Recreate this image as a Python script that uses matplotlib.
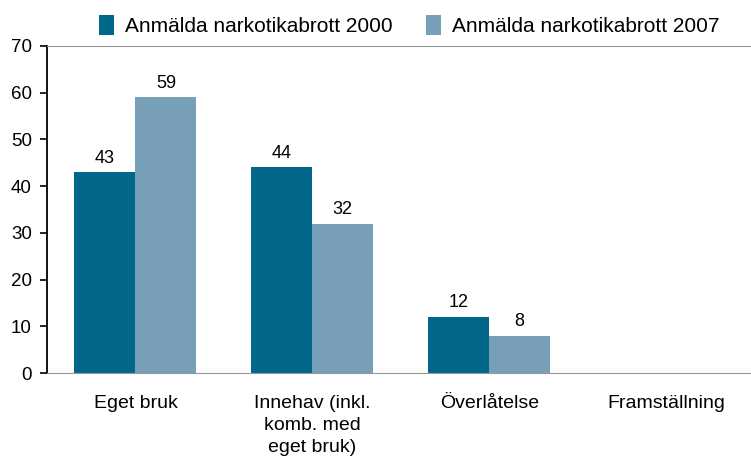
import matplotlib
matplotlib.use("Agg")
import matplotlib.pyplot as plt
import numpy as np

plt.rcParams['font.family'] = ['Liberation Sans', 'DejaVu Sans']

categories = ["Eget bruk", "Innehav (inkl.\nkomb. med\neget bruk)", "Överlåtelse", "Framställning"]
series_names = ["Anmälda narkotikabrott 2000", "Anmälda narkotikabrott 2007"]
values_2000 = [43, 44, 12, 0]
values_2007 = [59, 32, 8, 0]
colors = ["#00678A", "#789FB8"]

fig = plt.figure(figsize=(7.51, 4.59), dpi=100)
ax = fig.add_axes([47/751, 1 - 373/459, 1 - 47/751, (373 - 46)/459])

x = np.arange(len(categories))
w = 0.345
b1 = ax.bar(x - w/2, values_2000, w, color=colors[0], label=series_names[0])
b2 = ax.bar(x + w/2, values_2007, w, color=colors[1], label=series_names[1])

for bars, vals in ((b1, values_2000), (b2, values_2007)):
    for r, v in zip(bars, vals):
        if v > 0:
            ax.annotate(str(v), (r.get_x() + r.get_width()/2, v), xytext=(0, 4),
                        textcoords="offset points", ha="center", va="bottom", fontsize=13)

ax.set_ylim(0, 70)
ax.set_xlim(-0.5, 3.48)
ax.set_yticks(range(0, 71, 10))
ax.set_xticks(x)
ax.set_xticklabels(categories, fontsize=14, linespacing=1.38)
ax.tick_params(axis='y', labelsize=13.5, length=5, width=1.2, direction='out', color='black', pad=6)
ax.tick_params(axis='x', length=0, pad=16)

ax.spines["right"].set_visible(False)
ax.spines["top"].set_color("#999999")
ax.spines["bottom"].set_color("#999999")
ax.spines["left"].set_color("black")
ax.spines["left"].set_linewidth(1.3)

leg = fig.legend(handles=[b1, b2], loc="upper left", bbox_to_anchor=(84/751, 1.0), ncol=2,
                 frameon=False, fontsize=15, handlelength=0.75, handleheight=1.15,
                 handletextpad=0.5, columnspacing=1.6, borderaxespad=0.3)

fig.savefig("out.png", dpi=100)
